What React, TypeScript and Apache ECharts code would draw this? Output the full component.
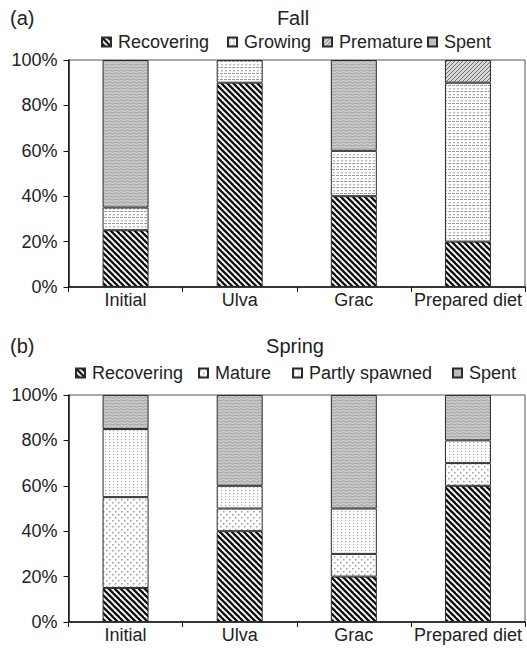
import React, { useEffect, useRef } from "react";
import * as echarts from "echarts";

const categories = ["Initial", "Ulva", "Grac", "Prepared diet"];

const fallNames = ["Recovering", "Growing", "Premature", "Spent"];
const fallRecovering = [25, 90, 40, 20];
const fallGrowing = [10, 10, 20, 70];
const fallPremature = [0, 0, 0, 10];
const fallSpent = [65, 0, 40, 0];

const springNames = ["Recovering", "Mature", "Partly spawned", "Spent"];
const springRecovering = [15, 40, 20, 60];
const springMature = [40, 10, 10, 10];
const springPartly = [30, 10, 20, 10];
const springSpent = [15, 40, 50, 20];

const yTicks = [0, 20, 40, 60, 80, 100];

const FONT = "'Liberation Sans', Arial, Helvetica, sans-serif";

function makePattern(w: number, h: number, draw: (ctx: CanvasRenderingContext2D) => void) {
  const c = document.createElement("canvas");
  c.width = w;
  c.height = h;
  const ctx = c.getContext("2d")!;
  draw(ctx);
  return { image: c, repeat: "repeat", imageWidth: w, imageHeight: h } as any;
}

export default function App() {
  const ref = useRef<HTMLDivElement>(null);
  useEffect(() => {
    if (!ref.current) return;
    const chart = echarts.init(ref.current, null, { renderer: "svg" });

    const pRecovering = makePattern(6, 6, (ctx) => {
      ctx.fillStyle = "#ffffff";
      ctx.fillRect(0, 0, 6, 6);
      ctx.strokeStyle = "#111111";
      ctx.lineWidth = 2.3;
      for (const k of [-6, 0, 6]) {
        ctx.beginPath();
        ctx.moveTo(k - 1, -1);
        ctx.lineTo(k + 7, 7);
        ctx.stroke();
      }
    });
    const pSpent = makePattern(6, 3, (ctx) => {
      ctx.fillStyle = "#cdcdcd";
      ctx.fillRect(0, 0, 6, 3);
      ctx.strokeStyle = "#959595";
      ctx.lineWidth = 0.9;
      ctx.beginPath();
      ctx.moveTo(0, 1.5);
      ctx.lineTo(1.5, 0.8);
      ctx.lineTo(3, 1.5);
      ctx.lineTo(4.5, 2.2);
      ctx.lineTo(6, 1.5);
      ctx.stroke();
    });
    const pGrowing = makePattern(8, 6, (ctx) => {
      ctx.fillStyle = "#ffffff";
      ctx.fillRect(0, 0, 8, 6);
      ctx.fillStyle = "#9c9c9c";
      ctx.fillRect(0, 1, 3, 1);
      ctx.fillRect(4, 1, 3, 1);
      ctx.fillStyle = "#bdbdbd";
      ctx.fillRect(1, 4, 2, 1.5);
      ctx.fillRect(5, 4, 2, 1.5);
    });
    const pPremature = makePattern(4, 4, (ctx) => {
      ctx.fillStyle = "#d8d8d8";
      ctx.fillRect(0, 0, 4, 4);
      ctx.strokeStyle = "#707070";
      ctx.lineWidth = 1;
      for (const k of [-4, 0, 4]) {
        ctx.beginPath();
        ctx.moveTo(k - 1, 5);
        ctx.lineTo(k + 5, -1);
        ctx.stroke();
      }
    });
    const pMature = makePattern(6, 6, (ctx) => {
      ctx.fillStyle = "#ffffff";
      ctx.fillRect(0, 0, 6, 6);
      ctx.fillStyle = "#9a9a9a";
      ctx.fillRect(1, 1, 1.5, 1.5);
      ctx.fillRect(4, 4, 1.5, 1.5);
    });
    const pPartly = makePattern(4, 3, (ctx) => {
      ctx.fillStyle = "#ffffff";
      ctx.fillRect(0, 0, 4, 3);
      ctx.fillStyle = "#ababab";
      ctx.fillRect(1, 1, 1.2, 1.2);
    });

    const nz = (arr: number[]) => arr.map((v) => (v === 0 ? null : v));

    const barBase = {
      type: "bar",
      barWidth: 46,
      itemStyle: { borderColor: "#2a2a2a", borderWidth: 1 },
    };

    const fallData = [fallRecovering, fallGrowing, fallPremature, fallSpent];
    const fallPatterns = [pRecovering, pGrowing, pPremature, pSpent];
    const springData = [springRecovering, springMature, springPartly, springSpent];
    const springPatterns = [pRecovering, pMature, pPartly, pSpent];

    const series: any[] = [];
    fallNames.forEach((n, i) => {
      series.push({
        ...barBase,
        name: n,
        stack: "fall",
        xAxisIndex: 0,
        yAxisIndex: 0,
        data: nz(fallData[i]),
        itemStyle: { ...barBase.itemStyle, color: fallPatterns[i] },
      });
    });
    springNames.forEach((n, i) => {
      series.push({
        ...barBase,
        name: n,
        stack: "spring",
        xAxisIndex: 1,
        yAxisIndex: 1,
        data: nz(springData[i]),
        itemStyle: { ...barBase.itemStyle, color: springPatterns[i] },
      });
    });

    const legendCommon = {
      orient: "horizontal",
      padding: 0,
      itemWidth: 9,
      itemHeight: 9,
      icon: "rect",
      selectedMode: false,
      textStyle: { fontFamily: FONT, fontSize: 18, color: "#222", padding: [0, 0, 0, 2] },
    };
    const fallLegendX = [101, 227, 322, 427];
    const springLegendX = [75, 198, 292, 452];
    const legends: any[] = [];
    fallNames.forEach((n, i) => {
      legends.push({ ...legendCommon, data: [n], left: fallLegendX[i], top: 33 });
    });
    springNames.forEach((n, i) => {
      legends.push({ ...legendCommon, data: [n], left: springLegendX[i], top: 364 });
    });

    const xAxisCommon = (gridIndex: number) => ({
      type: "category",
      gridIndex,
      data: categories,
      axisLine: { lineStyle: { color: "#111", width: 1.5 } },
      axisTick: { show: true, length: 5, alignWithLabel: false, lineStyle: { color: "#111" } },
      axisLabel: { fontFamily: FONT, fontSize: 18, color: "#222", margin: 4, interval: 0 },
    });
    const yAxisCommon = (gridIndex: number) => ({
      type: "value",
      gridIndex,
      min: 0,
      max: 100,
      interval: 20,
      axisLine: { show: true, lineStyle: { color: "#111", width: 1.5 } },
      axisTick: { show: true, length: 5, lineStyle: { color: "#111" } },
      splitLine: { show: false },
      axisLabel: {
        fontFamily: FONT,
        fontSize: 18,
        color: "#222",
        margin: 11,
        formatter: (v: number) => (yTicks.includes(v) ? v + "%" : ""),
      },
    });

    chart.setOption({
      animation: false,
      backgroundColor: "#ffffff",
      grid: [
        { left: 68.5, right: 2, top: 60, height: 227, show: true, borderColor: "#555", borderWidth: 1 },
        { left: 68.5, right: 2, top: 395, height: 227, show: true, borderColor: "#555", borderWidth: 1 },
      ],
      xAxis: [xAxisCommon(0), xAxisCommon(1)],
      yAxis: [yAxisCommon(0), yAxisCommon(1)],
      legend: legends,
      series,
      graphic: [
        { type: "text", x: 10, y: 18, style: { text: "(a)", font: `20px ${FONT}`, fill: "#222", textVerticalAlign: "middle" } },
        { type: "text", x: 293, y: 18, style: { text: "Fall", font: `20px ${FONT}`, fill: "#222", textAlign: "center", textVerticalAlign: "middle" } },
        { type: "text", x: 10, y: 346, style: { text: "(b)", font: `20px ${FONT}`, fill: "#222", textVerticalAlign: "middle" } },
        { type: "text", x: 295, y: 346, style: { text: "Spring", font: `20px ${FONT}`, fill: "#222", textAlign: "center", textVerticalAlign: "middle" } },
      ],
    });
    return () => chart.dispose();
  }, []);
  return <div ref={ref} style={{ width: 527, height: 648, position: "absolute", left: 0, top: 0 }} />;
}
